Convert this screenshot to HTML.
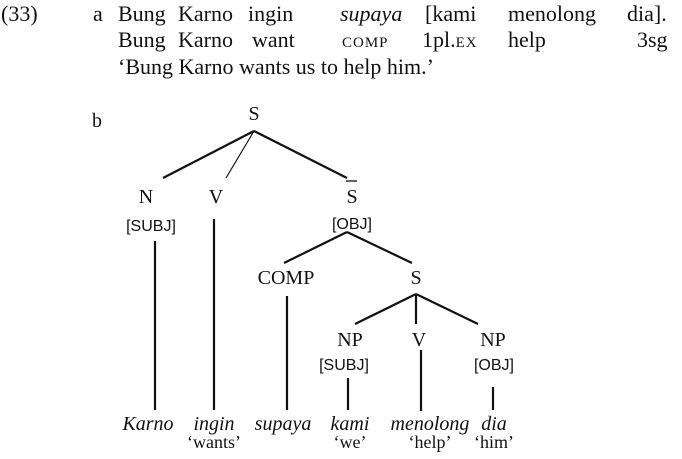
<!DOCTYPE html>
<html><head><style>
body{margin:0;width:682px;height:459px;background:#fff;position:relative;overflow:hidden;font-family:"Liberation Serif",serif;color:#111}
.t{position:absolute;font-size:22px;white-space:nowrap;line-height:1}
.sc{font-variant:small-caps;letter-spacing:1px}
svg{position:absolute;left:0;top:0}
svg text{font-family:"Liberation Serif",serif;fill:#111}
svg text.sf{font-family:"Liberation Sans",sans-serif}
</style></head><body>
<div class="t" style="left:1px;top:3px">(33)</div>
<div class="t" style="left:93px;top:3px">a</div>
<div class="t" style="left:118px;top:3px">Bung</div>
<div class="t" style="left:178px;top:3px">Karno</div>
<div class="t" style="left:248px;top:3px">ingin</div>
<div class="t" style="left:340px;top:3px"><i>supaya</i></div>
<div class="t" style="left:425px;top:3px">[kami</div>
<div class="t" style="left:508px;top:3px">menolong</div>
<div class="t" style="left:627px;top:3px">dia].</div>
<div class="t" style="left:118px;top:29px">Bung</div>
<div class="t" style="left:178px;top:29px">Karno</div>
<div class="t" style="left:252px;top:29px">want</div>
<div class="t sc" style="left:342px;top:29px">comp</div>
<div class="t" style="left:422px;top:29px">1pl.<span class="sc">ex</span></div>
<div class="t" style="left:508px;top:29px">help</div>
<div class="t" style="left:637px;top:29px">3sg</div>
<div class="t" style="left:118px;top:56px">‘Bung Karno wants us to help him.’</div>
<svg width="682" height="459">
<g font-size="20" text-anchor="middle">
<text x="97" y="127">b</text>
<text x="254" y="120">S</text>
<text x="146" y="203">N</text>
<text x="216" y="203">V</text>
<text x="352" y="203">S</text>
<text x="286" y="284">COMP</text>
<text x="416" y="284">S</text>
<text x="350" y="346">NP</text>
<text x="419" y="346">V</text>
<text x="493" y="346">NP</text>
</g>
<line x1="346" y1="181" x2="357" y2="181" stroke="#111" stroke-width="1.3"/>
<g font-size="16" text-anchor="middle">
<text class="sf" style="font-family:'Liberation Sans',sans-serif" x="151" y="231">[SUBJ]</text>
<text class="sf" style="font-family:'Liberation Sans',sans-serif" x="352" y="229">[OBJ]</text>
<text class="sf" style="font-family:'Liberation Sans',sans-serif" x="344" y="370">[SUBJ]</text>
<text class="sf" style="font-family:'Liberation Sans',sans-serif" x="494" y="370">[OBJ]</text>
</g>
<g stroke="#111" stroke-width="2.2" fill="none">
<line x1="254" y1="131" x2="163" y2="178"/>
<line x1="254" y1="131" x2="226" y2="178" stroke-width="1.2"/>
<line x1="254" y1="131" x2="347" y2="178"/>
<line x1="347" y1="232" x2="284" y2="263"/>
<line x1="347" y1="232" x2="412" y2="263"/>
<line x1="155" y1="241" x2="155" y2="410"/>
<line x1="214" y1="219" x2="214" y2="410"/>
<line x1="287" y1="296" x2="287" y2="410"/>
<line x1="416" y1="294" x2="355" y2="324"/>
<line x1="416" y1="294" x2="416" y2="324"/>
<line x1="416" y1="294" x2="478" y2="324"/>
<line x1="348" y1="378" x2="348" y2="410"/>
<line x1="421" y1="350" x2="421" y2="411"/>
<line x1="493" y1="387" x2="493" y2="410"/>
</g>
<g font-size="20" text-anchor="middle" font-style="italic">
<text x="148" y="430">Karno</text>
<text x="214" y="430">ingin</text>
<text x="283" y="430">supaya</text>
<text x="350" y="430">kami</text>
<text x="430" y="430">menolong</text>
<text x="494" y="430">dia</text>
</g>
<g font-size="18" text-anchor="middle">
<text x="214" y="448">‘wants’</text>
<text x="350" y="448">‘we’</text>
<text x="430" y="448">‘help’</text>
<text x="494" y="448">‘him’</text>
</g>
</svg>
</body></html>
